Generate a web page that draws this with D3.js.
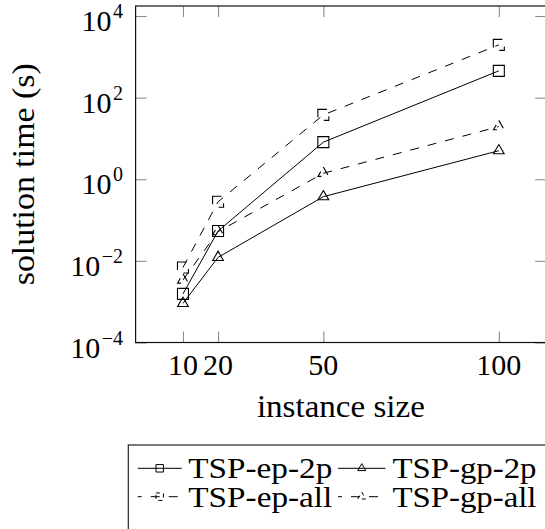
<!DOCTYPE html>
<html>
<head>
<meta charset="utf-8">
<script src="https://cdn.jsdelivr.net/npm/d3@7"></script>
<style>
  html, body { margin: 0; padding: 0; background: #fff; }
  svg { display: block; }
</style>
</head>
<body>
<svg id="chart"></svg>
<script>
// 1. Data
const sizes = [10, 20, 50, 100];
const epTwoP = [1.55e-3, 0.054, 8.1, 453];
const gpTwoP = [9.1e-4, 0.0122, 0.374, 5.0];
const epAll = [6.9e-3, 0.28, 37.8, 1960];
const gpAll = [3.4e-3, 0.052, 1.4, 19.5];
const seriesNames = ["TSP-ep-2p", "TSP-gp-2p", "TSP-ep-all", "TSP-gp-all"];
const xTicks = [10, 20, 50, 100];
const yTicks = [1e-4, 1e-2, 1, 1e2, 1e4];

const width = 545, height = 529;
const serif = "Liberation Serif";

const svg = d3.select("#chart")
  .attr("width", width)
  .attr("height", height)
  .attr("viewBox", [0, 0, width, height]);

// 2. Plot box and scales
const box = { left: 135.6, right: 546.2, top: 6, bottom: 342.5 };

const x = d3.scaleLinear()
  .domain([-3.5, 113.5])
  .range([box.left, box.right]);

const y = d3.scaleLog()
  .domain([1e-4, Math.pow(10, 4.245)])
  .range([box.bottom, box.top]);

// 3. Ticks (inward, on all four sides)
const tickLen = 11;
const tickStyle = sel => {
  sel.select(".domain").remove();
  sel.selectAll("line").attr("stroke", "#8c8c8c").attr("stroke-width", 1.1);
  sel.selectAll("text").remove();
};

svg.append("g")
  .attr("transform", `translate(0,${box.bottom})`)
  .call(d3.axisBottom(x).tickValues(xTicks).tickSize(-tickLen).tickSizeOuter(0))
  .call(tickStyle);
svg.append("g")
  .attr("transform", `translate(0,${box.top})`)
  .call(d3.axisTop(x).tickValues(xTicks).tickSize(-tickLen).tickSizeOuter(0))
  .call(tickStyle);
svg.append("g")
  .attr("transform", `translate(${box.left},0)`)
  .call(d3.axisLeft(y).tickValues(yTicks).tickSize(-tickLen).tickSizeOuter(0))
  .call(tickStyle);
svg.append("g")
  .attr("transform", `translate(${box.right},0)`)
  .call(d3.axisRight(y).tickValues(yTicks).tickSize(-tickLen).tickSizeOuter(0))
  .call(tickStyle);

// frame
svg.append("rect")
  .attr("x", box.left)
  .attr("y", box.top)
  .attr("width", box.right - box.left)
  .attr("height", box.bottom - box.top)
  .attr("fill", "none")
  .attr("stroke", "#111")
  .attr("stroke-width", 1.2);

// 4. Tick labels
svg.append("g")
  .selectAll("text")
  .data(xTicks)
  .join("text")
    .attr("x", d => x(d))
    .attr("y", 375)
    .attr("text-anchor", "middle")
    .style("font-family", serif)
    .style("font-size", "30px")
    .text(d => d);

const yLab = svg.append("g")
  .selectAll("text")
  .data(yTicks)
  .join("text")
    .attr("x", 123)
    .attr("y", d => y(d) + 15)
    .attr("text-anchor", "end")
    .style("font-family", serif)
    .style("font-size", "30px");
yLab.append("tspan").text("10");
yLab.append("tspan")
  .attr("dy", -13)
  .attr("dx", 1.5)
  .style("font-size", "20px")
  .text(d => {
    const e = Math.round(Math.log10(d));
    return e < 0 ? "\u2212" + (-e) : String(e);
  });

// 5. Axis titles
svg.append("text")
  .attr("x", (box.left + box.right) / 2)
  .attr("y", 416.5)
  .attr("text-anchor", "middle")
  .style("font-family", serif)
  .style("font-size", "31px")
  .attr("textLength", 168)
  .attr("lengthAdjust", "spacingAndGlyphs")
  .text("instance size");

svg.append("text")
  .attr("transform", `translate(34,${(box.top + box.bottom) / 2}) rotate(-90)`)
  .attr("text-anchor", "middle")
  .style("font-family", serif)
  .style("font-size", "31px")
  .attr("textLength", 222)
  .attr("lengthAdjust", "spacingAndGlyphs")
  .text("solution time (s)");

// 6. Series
const dash = "9,9";
const series = [
  { name: seriesNames[0], values: epTwoP, mark: d3.symbolSquare, dashed: false },
  { name: seriesNames[1], values: gpTwoP, mark: d3.symbolTriangle, dashed: false },
  { name: seriesNames[2], values: epAll, mark: d3.symbolSquare, dashed: true },
  { name: seriesNames[3], values: gpAll, mark: d3.symbolTriangle, dashed: true }
];
const markSize = s => s.mark === d3.symbolSquare ? 121 : 50;
const legendMarkSize = s => s.mark === d3.symbolSquare ? 56 : 28;

const line = d3.line()
  .x((d, i) => x(sizes[i]))
  .y(d => y(d));

const plot = svg.append("g");
series.forEach(s => {
  plot.append("path")
    .attr("d", line(s.values))
    .attr("fill", "none")
    .attr("stroke", "#000")
    .attr("stroke-width", 1)
    .attr("stroke-dasharray", s.dashed ? dash : null);

  plot.selectAll(null)
    .data(s.values)
    .join("path")
      .attr("transform", (d, i) => `translate(${x(sizes[i])},${y(d)})`)
      .attr("d", d3.symbol(s.mark, markSize(s)))
      .attr("fill", "none")
      .attr("stroke", "#000")
      .attr("stroke-width", 1.1)
      .attr("stroke-dasharray", s.dashed ? dash : null);
});

// 7. Legend (box runs off the right and bottom edges)
const legend = svg.append("g");
legend.append("rect")
  .attr("x", 128.3)
  .attr("y", 445)
  .attr("width", 440)
  .attr("height", 120)
  .attr("fill", "#fff")
  .attr("stroke", "#222")
  .attr("stroke-width", 1.2);

const colX = [{ x0: 137.7, x1: 181.7, tx: 188.3 }, { x0: 338, x1: 385.5, tx: 392.5 }];
const rowY = [468.3, 496.7];

series.forEach((s, i) => {
  const c = colX[i % 2];
  const ry = rowY[Math.floor(i / 2)];
  legend.append("line")
    .attr("x1", c.x0).attr("x2", c.x1)
    .attr("y1", ry).attr("y2", ry)
    .attr("stroke", "#000")
    .attr("stroke-width", 1)
    .attr("stroke-dasharray", s.dashed ? dash : null)
    .attr("stroke-dashoffset", s.dashed ? 5 : null);
  legend.append("path")
    .attr("transform", `translate(${(c.x0 + c.x1) / 2},${ry})`)
    .attr("d", d3.symbol(s.mark, legendMarkSize(s)))
    .attr("fill", "none")
    .attr("stroke", "#000")
    .attr("stroke-width", 1)
    .attr("stroke-dasharray", s.dashed ? "4,4" : null);
  legend.append("text")
    .attr("x", c.tx)
    .attr("y", ry + 10)
    .style("font-family", serif)
    .style("font-size", "29px")
    .attr("textLength", 144)
    .attr("lengthAdjust", "spacingAndGlyphs")
    .text(s.name);
});
</script>
</body>
</html>
